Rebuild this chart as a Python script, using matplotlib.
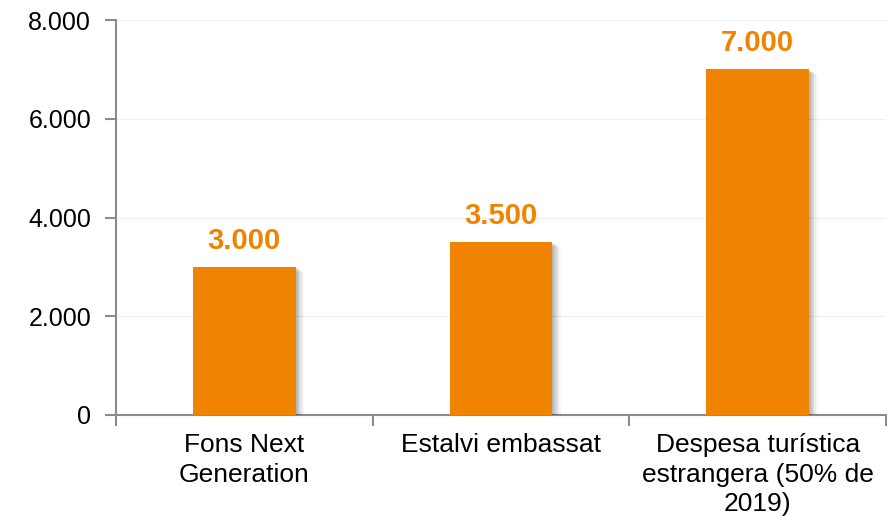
import matplotlib
matplotlib.use("Agg")
import matplotlib.pyplot as plt
import matplotlib.patheffects as pe

categories = ["Fons Next\nGeneration", "Estalvi embassat", "Despesa turística\nestrangera (50% de\n2019)"]
values = [3000, 3500, 7000]
labels = ["3.000", "3.500", "7.000"]
yticks = [0, 2000, 4000, 6000, 8000]
ytick_labels = ["0", "2.000", "4.000", "6.000", "8.000"]

plt.rcParams['font.family'] = ['Liberation Sans', 'DejaVu Sans']
orange = '#F08300'
axis_gray = '#8c8c8c'

fig = plt.figure(figsize=(8.88, 5.22), dpi=100)
ax = fig.add_axes([116/888, 107/522, 770/888, 395/522])

x = list(range(len(categories)))
# soft shadow layers
shadow_effects = []
for i, a in enumerate([0.10, 0.08, 0.06, 0.04, 0.03]):
    shadow_effects.append(pe.SimplePatchShadow(offset=(1.5 + i * 1.2, -1.0 - i * 0.6), shadow_rgbFace='black', alpha=a))
bars = ax.bar(x, values, width=0.4, color=orange, zorder=3,
              path_effects=shadow_effects + [pe.Normal()])

for xi, v, lab in zip(x, values, labels):
    ax.text(xi, v + 250, lab, ha='center', va='bottom', fontsize=21,
            fontweight='bold', color=orange, zorder=4)

ax.set_xlim(-0.5, 2.5)
ax.set_ylim(0, 8000)
ax.set_yticks(yticks)
ax.set_yticklabels(ytick_labels, fontsize=18)
ax.set_xticks(x)
ax.set_xticklabels(categories, fontsize=19, linespacing=1.3)
ax.tick_params(axis='x', length=0, pad=13)
ax.set_xticks([-0.5, 0.5, 1.5, 2.5], minor=True)
ax.tick_params(axis='x', which='minor', length=8, width=1.5, color=axis_gray, direction='out')
ax.tick_params(axis='y', length=8, width=1.5, color=axis_gray, direction='out', pad=10)

ax.grid(axis='y', color='#f0f0f0', linewidth=1.0, zorder=0)
ax.set_axisbelow(True)

for s in ['top', 'right']:
    ax.spines[s].set_visible(False)
for s in ['left', 'bottom']:
    ax.spines[s].set_color(axis_gray)
    ax.spines[s].set_linewidth(1.5)

fig.savefig('out.png', dpi=100)
